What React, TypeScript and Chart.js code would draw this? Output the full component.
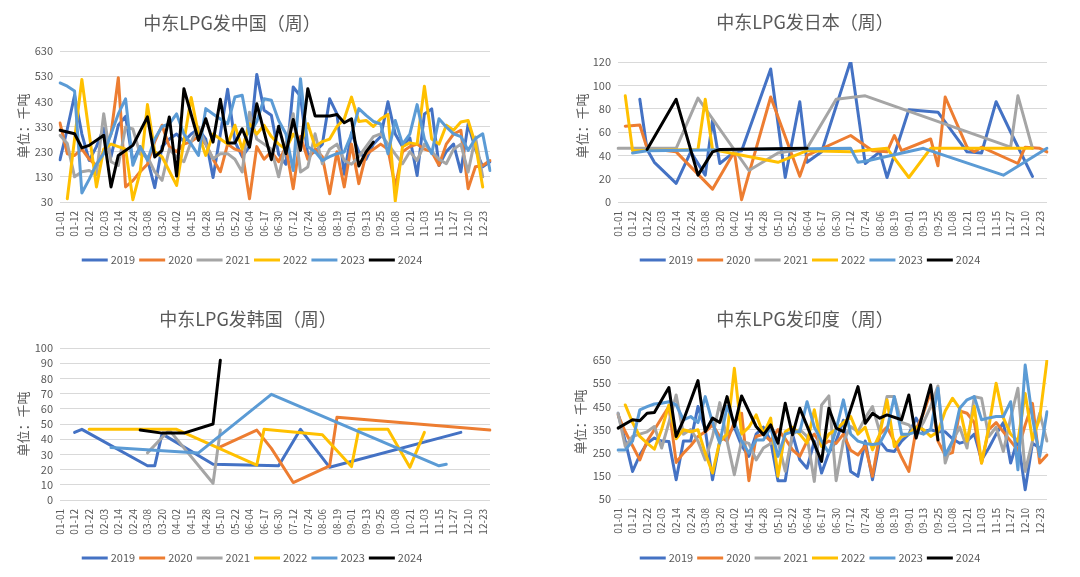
import React, { useEffect, useRef } from 'react';
import { Chart, registerables } from 'chart.js';

Chart.register(...registerables);

const FONT = '"Noto Sans CJK SC", "Noto Sans", sans-serif';
const TEXT = '#595959';

// x-axis tick labels (every second category carries a label)
const tickLabels = ['01-01','01-12','01-22','02-03','02-14','02-24','03-08','03-20','04-02','04-15','04-28','05-10','05-22','06-04','06-17','06-30','07-12','07-24','08-06','08-19','09-01','09-13','09-25','10-08','10-21','11-03','11-15','11-27','12-10','12-23'];
const N = 60;
const categories: string[] = Array.from({ length: N }, (_, i) => (i % 2 === 0 && tickLabels[i / 2]) ? tickLabels[i / 2] : '');

const years = ['2019', '2020', '2021', '2022', '2023', '2024'];
const colors = ['#4472C4', '#ED7D31', '#A5A5A5', '#FFC000', '#5B9BD5', '#000000'];

// 中东LPG发中国（周） 千吨
const china2019 = [198,320,454,300,195,250,323,210,335,370,190,250,200,87,250,280,300,270,300,320,280,127,300,478,270,210,250,537,395,375,220,180,487,450,215,230,260,440,380,140,305,230,200,260,290,428,300,250,285,135,380,400,175,230,260,150,340,240,170,190];
const china2020 = [344,222,215,240,200,175,230,300,524,90,115,150,180,270,335,250,230,260,270,290,260,200,150,260,240,230,43,250,200,230,190,250,83,290,200,240,210,63,230,90,260,103,220,240,260,240,90,230,250,260,240,230,176,260,300,315,83,170,175,195];
const china2021 = [295,262,130,150,155,140,381,190,175,328,320,220,210,150,116,240,209,190,270,328,260,202,222,222,200,149,387,280,260,240,130,260,381,149,169,301,182,240,260,195,180,210,250,290,301,260,220,182,230,195,260,230,200,182,240,260,149,288,130,null];
const china2022 = [null,43,280,517,null,90,240,260,250,240,39,150,417,230,210,null,96,null,445,300,215,300,280,260,335,240,341,300,335,290,260,240,300,260,341,250,270,280,330,360,447,350,354,330,360,378,34,250,265,260,490,280,260,335,315,348,354,260,90,null];
const china2023 = [503,490,471,66,120,180,222,300,380,440,176,250,196,280,330,340,380,300,260,215,401,380,360,341,447,454,300,350,440,434,354,300,155,520,250,230,195,210,222,229,300,401,374,350,340,222,354,260,300,417,280,222,361,328,301,290,235,282,301,155];
const china2024 = [315,null,301,245,255,null,295,90,215,null,255,null,368,209,235,368,133,480,null,275,361,268,438,264,264,321,248,420,null,198,331,222,358,235,480,372,null,372,378,345,361,173,229,268,null,null,null,null,null,null,null,null,null,null,null,null,null,null,null,null];

// 中东LPG发日本（周）: [category index, value]
const japan2019: [number, number][] = [[3,88],[4,45],[5,34],[8,16],[10,43],[12,23],[13,70],[14,33],[16,43],[17,44],[21,114],[23,21],[25,86],[26,34],[28,43],[32,121],[34,33],[36,43],[37,21],[40,79],[44,77],[48,43],[50,42],[52,86],[54,60],[57,22]];
const japan2020: [number, number][] = [[1,65],[3,66],[4,46],[8,43],[13,11],[16,43],[17,2],[21,90],[25,22],[26,40],[32,57],[35,44],[37,43],[38,57],[39,44],[43,54],[44,31],[45,90],[48,47],[49,43],[50,47],[55,33],[56,47],[58,46],[59,43]];
const japan2021: [number, number][] = [[0,46],[8,46],[11,89],[18,27],[22,42],[26,46],[30,88],[34,91],[54,47],[55,91],[57,46]];
const japan2022: [number, number][] = [[1,91],[2,44],[11,45],[12,88],[13,45],[22,34],[26,44],[32,43],[37,46],[40,21],[43,46],[57,46]];
const japan2023: [number, number][] = [[2,42],[4,44],[32,46],[33,34],[34,35],[42,46],[53,23],[59,46]];
const japan2024: [number, number][] = [[4,45],[8,88],[11,23],[13,43],[14,45],[26,46]];

// 中东LPG发韩国（周）: [category index, value]
const korea2019: [number, number][] = [[2,44.5],[3,46.5],[12,22.5],[13,22.5],[14,43.5],[21,23.5],[30,22.5],[33,46.5],[37,21.5],[55,44.5]];
const korea2020: [number, number][] = [[22,35],[27,46],[29,34],[32,11.5],[37,22.5],[38,54.5],[59,46]];
const korea2021: [number, number][] = [[12,31],[15,46],[21,11],[22,46]];
const korea2022: [number, number][] = [[4,46.5],[16,46.5],[27,23],[28,46.5],[36,43],[40,22],[41,46.5],[45,46.5],[48,21.5],[50,44.5]];
const korea2023: [number, number][] = [[7,34.5],[19,31],[29,69.5],[52,22.5],[53,23.5]];
const korea2024: [number, number][] = [[11,46],[14,44],[17,44],[21,50],[22,92]];

// 中东LPG发印度（周） 千吨
const india2019 = [420,300,169,240,290,313,300,298,133,300,300,449,349,133,300,327,360,280,234,330,360,300,129,129,330,219,183,300,162,250,300,390,169,148,300,133,300,260,255,300,330,399,340,349,340,340,310,291,300,330,219,270,330,380,205,310,90,291,270,null];
const india2020 = [413,340,280,219,300,349,400,449,208,248,280,320,340,370,320,300,380,420,129,320,330,300,350,310,262,234,300,330,280,300,290,330,260,240,280,148,330,360,300,230,169,350,420,513,300,240,250,430,420,380,205,350,380,340,300,260,370,463,205,240];
const india2021 = [420,277,320,330,340,363,270,380,499,330,350,300,219,320,466,300,155,300,290,219,270,290,300,170,330,350,320,126,456,495,129,300,363,340,400,449,340,492,492,380,370,330,380,449,538,205,300,360,270,492,485,320,360,255,400,528,169,300,420,300];
const india2022 = [null,456,380,320,291,265,350,456,310,349,340,349,248,162,300,330,614,330,360,413,330,399,148,340,360,330,291,435,277,330,350,380,406,330,360,262,330,478,277,320,330,360,350,320,340,430,485,440,300,450,205,360,550,400,330,300,506,306,400,650];
const india2023 = [262,262,300,435,449,460,463,470,456,392,406,380,492,380,291,449,380,300,248,305,305,360,234,330,340,340,470,360,300,248,350,478,330,300,290,285,290,350,492,330,330,340,330,350,528,240,300,442,478,492,392,400,406,406,470,176,628,400,234,427];
const india2024 = [356,null,392,388,420,423,null,531,320,390,null,561,341,399,380,492,363,495,null,363,327,370,291,463,327,442,null,null,212,442,356,341,null,535,377,420,399,413,null,392,499,313,427,542,305,null,null,null,null,null,null,null,null,null,null,null,null,null,null,null];

function fromPairs(pairs: [number, number][]): (number | null)[] {
  const arr: (number | null)[] = Array(N).fill(null);
  pairs.forEach(([i, v]) => { arr[i] = v; });
  return arr;
}

const decorPlugin = {
  id: 'decor',
  afterDraw(chart: any, _args: any, opts: any) {
    const ctx = chart.ctx as CanvasRenderingContext2D;
    ctx.save();
    ctx.fillStyle = TEXT;
    ctx.textBaseline = 'middle';
    ctx.textAlign = 'center';
    ctx.font = `18px ${FONT}`;
    ctx.fillText(opts.title, opts.titleX, opts.titleY);

    ctx.save();
    ctx.translate(opts.yTitleX, opts.yTitleY);
    ctx.rotate(-Math.PI / 2);
    ctx.font = `13px ${FONT}`;
    ctx.fillText(opts.yTitle, 0, 0);
    ctx.restore();

    ctx.font = `11px ${FONT}`;
    const items = chart.data.datasets.map((ds: any) => ({ label: ds.label, color: ds.borderColor, w: ctx.measureText(ds.label).width }));
    const lineW = 26, gap1 = 3, gap2 = 4;
    const total = items.reduce((s: number, it: any) => s + lineW + gap1 + it.w + gap2, 0) - gap2;
    let x = opts.legendX - total / 2;
    ctx.textAlign = 'left';
    for (const it of items) {
      ctx.strokeStyle = it.color;
      ctx.lineWidth = 3;
      ctx.beginPath();
      ctx.moveTo(x, opts.legendY);
      ctx.lineTo(x + lineW, opts.legendY);
      ctx.stroke();
      x += lineW + gap1;
      ctx.fillText(it.label, x, opts.legendY);
      x += it.w + gap2;
    }
    ctx.restore();
  },
};

type Spec = {
  title: string; series: (number | null)[][]; min: number; max: number; step: number;
  W: number; H: number; plotLeft: number; plotRight: number; plotTop: number; plotBottom: number;
  titleX: number; titleY: number; yTitleX: number; yTitleY: number; legendX: number; legendY: number;
};

const X_H = 40;

function makeConfig(s: Spec): any {
  return {
    type: 'line',
    data: {
      labels: categories,
      datasets: s.series.map((d, i) => ({
        label: years[i], data: d, borderColor: colors[i], backgroundColor: colors[i],
        borderWidth: 3, pointRadius: 0, pointHoverRadius: 0, tension: 0, spanGaps: true,
        order: 5 - i, borderJoinStyle: 'round', borderCapStyle: 'round', fill: false,
      })),
    },
    options: {
      animation: false, responsive: false, devicePixelRatio: 1, events: [],
      layout: { padding: { top: s.plotTop, left: 0, right: s.W - s.plotRight, bottom: s.H - s.plotBottom - X_H } },
      scales: {
        x: {
          type: 'category', offset: false,
          grid: { display: false, drawTicks: false }, border: { display: false },
          ticks: { autoSkip: false, maxRotation: 90, minRotation: 90, color: TEXT, font: { size: 10, family: FONT }, padding: 9 },
          afterFit: (sc: any) => { sc.height = X_H; },
        },
        y: {
          min: s.min, max: s.max,
          grid: { color: '#D9D9D9', lineWidth: 1, drawTicks: false }, border: { display: false },
          ticks: { stepSize: s.step, autoSkip: false, color: TEXT, font: { size: 11, family: FONT }, padding: 7 },
          afterFit: (sc: any) => { sc.width = s.plotLeft; },
        },
      },
      plugins: {
        legend: { display: false }, tooltip: { enabled: false }, title: { display: false },
        decor: { title: s.title, titleX: s.titleX, titleY: s.titleY, yTitle: '单位：千吨', yTitleX: s.yTitleX, yTitleY: s.yTitleY, legendX: s.legendX, legendY: s.legendY },
      },
    },
    plugins: [decorPlugin],
  };
}

const specs: Spec[] = [
  { title: '中东LPG发中国（周）', series: [china2019, china2020, china2021, china2022, china2023, china2024], min: 30, max: 630, step: 100,
    W: 540, H: 288, plotLeft: 60, plotRight: 490, plotTop: 51, plotBottom: 202, titleX: 232, titleY: 23, yTitleX: 23, yTitleY: 126, legendX: 252, legendY: 260 },
  { title: '中东LPG发日本（周）', series: [japan2019, japan2020, japan2021, japan2022, japan2023, japan2024].map(fromPairs), min: 0, max: 120, step: 20,
    W: 540, H: 288, plotLeft: 78, plotRight: 507, plotTop: 62, plotBottom: 202, titleX: 265, titleY: 22, yTitleX: 42, yTitleY: 126, legendX: 270, legendY: 260 },
  { title: '中东LPG发韩国（周）', series: [korea2019, korea2020, korea2021, korea2022, korea2023, korea2024].map(fromPairs), min: 0, max: 100, step: 10,
    W: 540, H: 289, plotLeft: 60, plotRight: 490, plotTop: 60, plotBottom: 212, titleX: 248, titleY: 31, yTitleX: 23, yTitleY: 136, legendX: 252, legendY: 270 },
  { title: '中东LPG发印度（周）', series: [india2019, india2020, india2021, india2022, india2023, india2024], min: 50, max: 650, step: 100,
    W: 540, H: 289, plotLeft: 78, plotRight: 507, plotTop: 72, plotBottom: 211, titleX: 265, titleY: 31, yTitleX: 40, yTitleY: 134, legendX: 270, legendY: 270 },
];

const positions = [
  { left: 0, top: 0 }, { left: 540, top: 0 }, { left: 0, top: 288 }, { left: 540, top: 288 },
];

export default function App() {
  const refs = [useRef<HTMLCanvasElement>(null), useRef<HTMLCanvasElement>(null), useRef<HTMLCanvasElement>(null), useRef<HTMLCanvasElement>(null)];
  useEffect(() => {
    const charts = specs.map((s, i) => new Chart(refs[i].current as HTMLCanvasElement, makeConfig(s)));
    return () => charts.forEach((c) => c.destroy());
  }, []);
  return (
    <div style={{ position: 'absolute', left: 0, top: 0, width: 1080, height: 577, background: '#ffffff', overflow: 'hidden' }}>
      {specs.map((s, i) => (
        <canvas key={i} ref={refs[i]} width={s.W} height={s.H}
          style={{ position: 'absolute', left: positions[i].left, top: positions[i].top, width: s.W, height: s.H, display: 'block' }} />
      ))}
    </div>
  );
}
